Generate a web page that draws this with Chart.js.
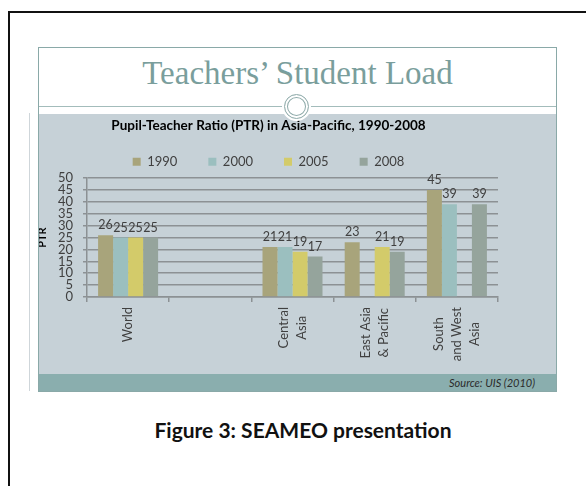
<!DOCTYPE html>
<html>
<head>
<meta charset="utf-8">
<script src="https://cdn.jsdelivr.net/npm/chart.js@4.4.1/dist/chart.umd.min.js"></script>
<style>
  html, body { margin: 0; padding: 0; background: #fff; }
  body { width: 586px; height: 486px; position: relative; overflow: hidden; font-family: Lato, sans-serif; }
  .abs { position: absolute; }
  #frame { left: 8px; top: 11px; width: 640px; height: 600px; border-top: 2px solid #111; border-left: 2px solid #111; }
  #sideline { left: 29px; top: 113px; width: 1px; height: 278px; background: #cfd6da; }
  #slide { left: 38px; top: 47px; width: 517px; height: 343px; border: 1px solid #8aa9a8; }
  #heading { left: 39px; top: 51px; width: 517px; text-align: center; font-family: "Liberation Serif", serif; font-size: 33px; line-height: 44px; color: #7a9e9c; }
  #rule { left: 39px; top: 106px; width: 517px; height: 1px; background: #a3bcbb; }
  #panel { left: 39px; top: 114px; width: 517px; height: 260px; background: #c6d1d7; }
  #strip { left: 39px; top: 374px; width: 517px; height: 17px; background: #8aaeae; }
  #source { right: 51px; top: 374px; line-height: 17px; font-size: 11px; font-style: italic; color: #2b2b2b; }
  #ring { left: 284px; top: 94px; width: 23px; height: 23px; border-radius: 50%; background: #fff;
          border: 1px solid #8fabaa; box-shadow: 0 0 0 2px #fff, inset 0 0 0 2px #fff, inset 0 0 0 3px #8fabaa; }
  #chartBox { left: 39px; top: 114px; width: 517px; height: 260px; }
  #caption { left: 0; top: 416px; width: 606px; text-align: center; font-size: 21px; font-weight: bold; line-height: 28px; color: #111; }
</style>
</head>
<body>
<div id="frame" class="abs"></div>
<div id="sideline" class="abs"></div>
<div id="slide" class="abs"></div>
<div id="heading" class="abs">Teachers’ Student Load</div>
<div id="rule" class="abs"></div>
<div id="panel" class="abs"></div>
<div id="strip" class="abs"></div>
<div id="source" class="abs">Source: UIS (2010)</div>
<div id="chartBox" class="abs"><canvas id="ptrChart" width="517" height="260"></canvas></div>
<div id="ring" class="abs"></div>
<div id="caption" class="abs">Figure 3: SEAMEO presentation</div>

<script>
const regions = [["World"], [""], ["Central", "Asia"], ["East Asia", "& Pacific"], ["South", "and West", "Asia"]];
const years = ["1990", "2000", "2005", "2008"];
const ptr1990 = [26, null, 21, 23, 45];
const ptr2000 = [25, null, 21, null, 39];
const ptr2005 = [25, null, 19, 21, null];
const ptr2008 = [25, null, 17, 19, 39];
const yTicks = [0, 5, 10, 15, 20, 25, 30, 35, 40, 45, 50];

const barColors = ["#a8a47b", "#9bbfbf", "#d3cb6a", "#95a49c"];
const gridColor = "#8c9194";
const textColor = "#404040";

// numbers above the bars
const valueLabels = {
  id: "valueLabels",
  afterDatasetsDraw(chart) {
    const ctx = chart.ctx;
    ctx.save();
    ctx.font = "12.5px Lato";
    ctx.fillStyle = textColor;
    ctx.textAlign = "center";
    ctx.textBaseline = "alphabetic";
    chart.data.datasets.forEach((ds, i) => {
      chart.getDatasetMeta(i).data.forEach((bar, j) => {
        const v = ds.data[j];
        if (v == null) return;
        ctx.fillText(String(v), bar.x, bar.y - 6);
      });
    });
    ctx.restore();
  }
};

// rotated category names, lines centred like the original
const categoryLabels = {
  id: "categoryLabels",
  afterDraw(chart) {
    const ctx = chart.ctx;
    const x = chart.scales.x;
    ctx.save();
    ctx.font = "13px Lato";
    ctx.fillStyle = textColor;
    ctx.textAlign = "center";
    ctx.textBaseline = "middle";
    regions.forEach((lines, i) => {
      const maxW = Math.max(...lines.map(l => ctx.measureText(l).width));
      const cx = x.getPixelForValue(i);
      const cy = x.top + 10 + maxW / 2;
      lines.forEach((line, k) => {
        ctx.save();
        ctx.translate(cx + (k - (lines.length - 1) / 2) * 18, cy);
        ctx.rotate(-Math.PI / 2);
        ctx.fillText(line, 0, 0);
        ctx.restore();
      });
    });
    ctx.restore();
  }
};

function makeDataset(label, data, color) {
  return {
    label: label,
    data: data,
    backgroundColor: color,
    borderWidth: 0,
    categoryPercentage: 0.73,
    barPercentage: 1.0
  };
}

function init() {
  Chart.defaults.font.family = "Lato";
  const ctx = document.getElementById("ptrChart").getContext("2d");
  new Chart(ctx, {
    type: "bar",
    data: {
      labels: regions,
      datasets: [
        makeDataset(years[0], ptr1990, barColors[0]),
        makeDataset(years[1], ptr2000, barColors[1]),
        makeDataset(years[2], ptr2005, barColors[2]),
        makeDataset(years[3], ptr2008, barColors[3])
      ]
    },
    options: {
      responsive: false,
      animation: false,
      devicePixelRatio: 1,
      layout: { padding: { left: 0, right: 58, top: 0, bottom: 0 } },
      scales: {
        x: {
          ticks: { display: false },
          grid: { drawOnChartArea: false, drawTicks: true, tickLength: 5, color: gridColor, lineWidth: 1.5 },
          border: { color: gridColor, width: 1.5 },
          afterFit: (s) => { s.height = 77; }
        },
        y: {
          min: 0,
          max: 50,
          afterBuildTicks: (s) => { s.ticks = yTicks.map(v => ({ value: v })); },
          ticks: { color: textColor, font: { size: 13 }, padding: 10, autoSkip: false },
          grid: { color: gridColor, lineWidth: 1.5, tickLength: 4 },
          border: { color: gridColor, width: 1.5 },
          title: { display: true, text: "PTR", color: "#000", font: { size: 11, weight: "bold" }, padding: { top: -3, bottom: 0 } },
          afterFit: (s) => { s.width = 48; }
        }
      },
      plugins: {
        title: {
          display: true,
          text: "Pupil-Teacher Ratio (PTR) in Asia-Pacific, 1990-2008",
          color: "#000",
          font: { size: 13.5, weight: "bold" },
          padding: { top: 4, bottom: -10 }
        },
        legend: {
          display: true,
          labels: { boxWidth: 8, boxHeight: 8, padding: 31, color: textColor, font: { size: 13 } }
        },
        tooltip: { enabled: false }
      }
    },
    plugins: [valueLabels, categoryLabels]
  });
}

document.addEventListener("DOMContentLoaded", init);
</script>
</body>
</html>
